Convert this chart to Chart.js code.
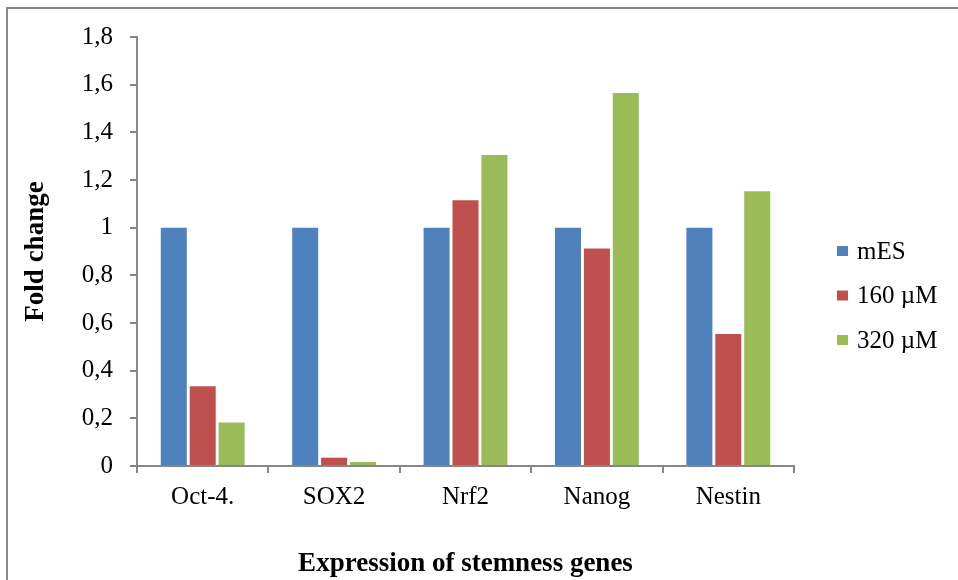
<!DOCTYPE html>
<html>
<head>
<meta charset="utf-8">
<title>Expression of stemness genes</title>
<script src="https://cdn.jsdelivr.net/npm/chart.js@4.4.1/dist/chart.umd.min.js"></script>
<style>
  html, body { margin: 0; padding: 0; background: #ffffff; }
  #wrap { position: relative; width: 958px; height: 580px; overflow: hidden; }
  #frameTop { position: absolute; left: 6px; top: 7px; width: 960px; height: 2px; background: #878787; }
  #frameLeft { position: absolute; left: 6px; top: 7px; width: 2px; height: 580px; background: #878787; }
  canvas { position: absolute; left: 0; top: 0; }
</style>
</head>
<body>
<div id="wrap">
  <canvas id="chart" width="958" height="580"></canvas>
  <div id="frameTop"></div>
  <div id="frameLeft"></div>
</div>
<script>
// Genes on the x axis
const categories = ['Oct-4.', 'SOX2', 'Nrf2', 'Nanog', 'Nestin'];

// Fold change per gene for each condition
const seriesNames = ['mES', '160 \u00B5M', '320 \u00B5M'];
const mES = [1, 1, 1, 1, 1];
const dose160 = [0.335, 0.035, 1.115, 0.913, 0.554];
const dose320 = [0.183, 0.017, 1.305, 1.565, 1.153];

// Y axis labels (decimal comma), from 0 to 1.8 in steps of 0.2
const yTickLabels = ['0', '0,2', '0,4', '0,6', '0,8', '1', '1,2', '1,4', '1,6', '1,8'];

const colors = ['#4F81BD', '#C0504D', '#9BBB59'];
const axisGray = '#878787';
const serif = "'Liberation Serif', 'Times New Roman', serif";

// Legend drawn to the right of the plot, one row per dataset
const sideLegend = {
  id: 'sideLegend',
  afterDraw(chart) {
    const ctx = chart.ctx;
    const x0 = 837, y0 = 251, step = 44.5;
    ctx.save();
    ctx.font = '25px ' + serif;
    ctx.textBaseline = 'middle';
    ctx.textAlign = 'left';
    chart.data.datasets.forEach((ds, i) => {
      const cy = y0 + i * step;
      ctx.fillStyle = ds.backgroundColor;
      ctx.fillRect(x0, cy - 5, 11, 10);
      ctx.fillStyle = '#000000';
      ctx.fillText(ds.label, x0 + 20, cy + 1);
    });
    ctx.restore();
  }
};

new Chart(document.getElementById('chart'), {
  type: 'bar',
  data: {
    labels: categories,
    datasets: [
      { label: seriesNames[0], data: mES, backgroundColor: colors[0] },
      { label: seriesNames[1], data: dose160, backgroundColor: colors[1] },
      { label: seriesNames[2], data: dose320, backgroundColor: colors[2] }
    ]
  },
  options: {
    responsive: false,
    animation: false,
    devicePixelRatio: 1,
    layout: { padding: { left: 0, top: 37, right: 164, bottom: 0 } },
    datasets: {
      bar: { categoryPercentage: 0.66, barPercentage: 0.9 }
    },
    plugins: {
      legend: { display: false },
      tooltip: { enabled: false }
    },
    scales: {
      x: {
        afterFit(scale) { scale.height = 114; },
        grid: {
          display: true,
          offset: true,
          drawOnChartArea: false,
          drawTicks: true,
          tickLength: 7,
          color: axisGray,
          lineWidth: 2
        },
        border: { display: true, color: axisGray, width: 2 },
        ticks: {
          color: '#000000',
          padding: 9,
          maxRotation: 0,
          font: { family: serif, size: 25 }
        },
        title: {
          display: true,
          text: 'Expression of stemness genes',
          color: '#000000',
          padding: { top: 0, bottom: 0 },
          font: { family: serif, size: 27, weight: 'bold' }
        }
      },
      y: {
        min: 0,
        max: 1.8,
        afterFit(scale) { scale.width = 137; },
        grid: {
          display: true,
          drawOnChartArea: false,
          drawTicks: true,
          tickLength: 7,
          color: axisGray,
          lineWidth: 2
        },
        border: { display: true, color: axisGray, width: 2 },
        ticks: {
          stepSize: 0.2,
          color: '#000000',
          padding: 17,
          font: { family: serif, size: 25 },
          callback: (value, index) => yTickLabels[index]
        },
        title: {
          display: true,
          text: 'Fold change',
          color: '#000000',
          padding: { top: 20, bottom: 0 },
          font: { family: serif, size: 27, weight: 'bold' }
        }
      }
    }
  },
  plugins: [sideLegend]
});
</script>
</body>
</html>
